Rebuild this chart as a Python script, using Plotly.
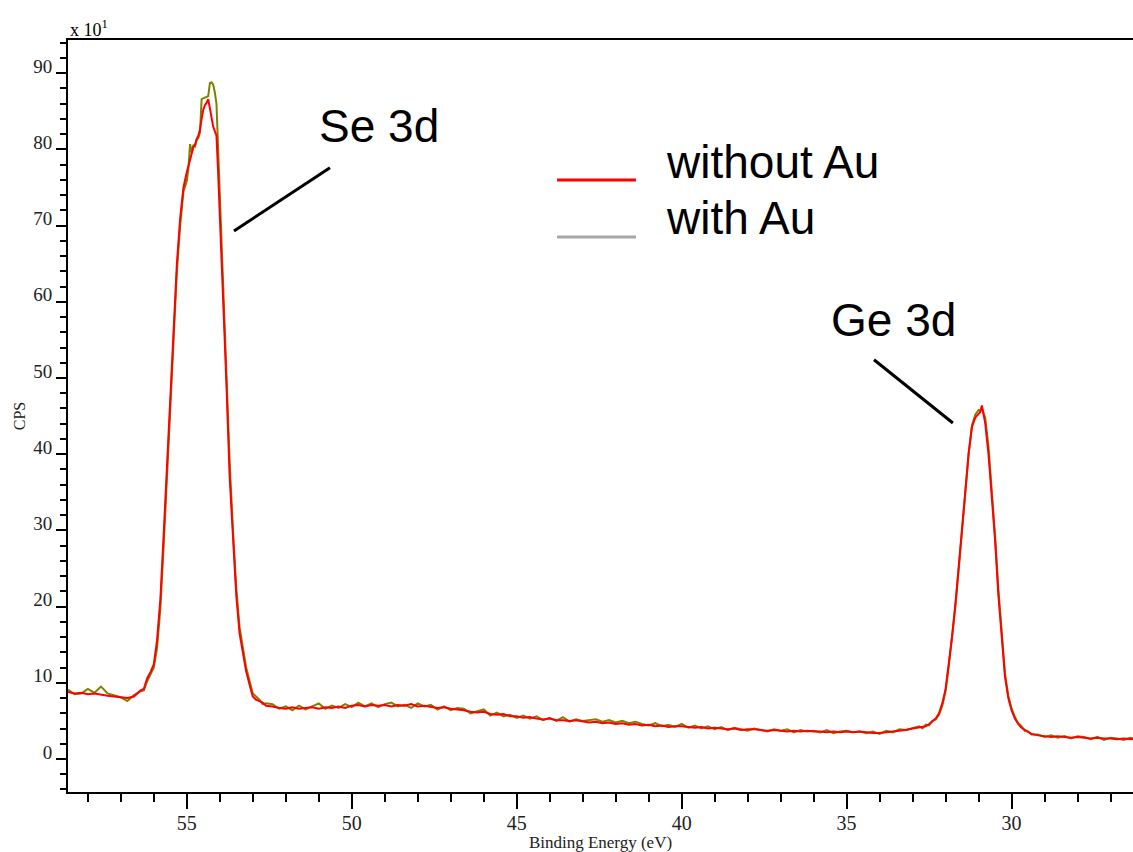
import plotly.graph_objects as go

# Binding energy grid (eV), high to low, shared by both spectra
energy = [
    58.6, 58.4, 58.2, 58.0, 57.8, 57.6, 57.4, 57.2, 57.0, 56.8, 56.6, 56.4,
    56.3, 56.2, 56.1, 56.0, 55.9, 55.8, 55.7, 55.6, 55.5, 55.4, 55.3, 55.2, 55.1, 55.0,
    54.95, 54.9, 54.85, 54.8, 54.75, 54.7, 54.65, 54.6, 54.55, 54.5, 54.45, 54.4, 54.35,
    54.3, 54.25, 54.2, 54.15, 54.1, 54.05, 54.0, 53.9, 53.8, 53.7, 53.6, 53.5, 53.4, 53.3,
    53.2, 53.1, 53.0, 52.9, 52.8, 52.7, 52.6,
    52.4, 52.2, 52.0, 51.8, 51.6, 51.4, 51.2, 51.0, 50.8, 50.6, 50.4, 50.2, 50.0,
    49.8, 49.6, 49.4, 49.2, 49.0, 48.8, 48.6, 48.4, 48.2, 48.0, 47.8, 47.6, 47.4, 47.2, 47.0,
    46.8, 46.6, 46.4, 46.2, 46.0, 45.8, 45.6, 45.4, 45.2, 45.0, 44.8, 44.6, 44.4, 44.2, 44.0,
    43.8, 43.6, 43.4, 43.2, 43.0, 42.8, 42.6, 42.4, 42.2, 42.0, 41.8, 41.6, 41.4, 41.2, 41.0,
    40.8, 40.6, 40.4, 40.2, 40.0, 39.8, 39.6, 39.4, 39.2, 39.0, 38.8, 38.6, 38.4, 38.2, 38.0,
    37.8, 37.6, 37.4, 37.2, 37.0, 36.8, 36.6, 36.4, 36.2, 36.0, 35.8, 35.6, 35.4, 35.2, 35.0,
    34.8, 34.6, 34.4, 34.2, 34.0, 33.8, 33.6, 33.4, 33.2, 33.0,
    32.8, 32.7, 32.6, 32.5, 32.4, 32.3, 32.2, 32.1, 32.0, 31.9, 31.8, 31.7, 31.6, 31.5,
    31.4, 31.3, 31.2, 31.1, 31.0, 30.95, 30.9, 30.85, 30.8, 30.7, 30.6, 30.5, 30.4, 30.3,
    30.2, 30.1, 30.0, 29.9, 29.8, 29.7, 29.6, 29.5, 29.4,
    29.2, 29.0, 28.8, 28.6, 28.4, 28.2, 28.0, 27.8, 27.6, 27.4, 27.2, 27.0, 26.8, 26.6, 26.4, 26.3,
]

# Counts per second (x 10) without Au
cps_without_au = [
    8.8, 8.6, 8.7, 8.5, 8.6, 8.4, 8.3, 8.2, 8.1, 8.0, 8.2, 9.0,
    9.2, 10.6, 11.4, 12.4, 15.6, 21.0, 29.5, 38.5, 47.0, 57.0, 65.0, 71.0, 75.0, 77.0,
    77.8, 78.6, 79.2, 80.3, 80.6, 81.4, 81.8, 82.6, 84.0, 85.2, 85.8, 86.1, 86.6,
    85.6, 84.2, 83.0, 82.5, 81.8, 77.0, 71.5, 62.5, 49.5, 37.0, 28.5, 21.5, 16.5, 14.0,
    11.5, 9.8, 8.2, 7.8, 7.6, 7.4, 7.0,
    6.9, 6.7, 6.6, 6.8, 6.6, 6.7, 6.8, 6.6, 6.8, 6.7, 6.9, 6.7, 7.0,
    7.1, 6.9, 7.1, 7.0, 7.1, 6.9, 7.1, 7.0, 7.2, 6.9, 7.0, 6.8, 6.7, 6.8, 6.6,
    6.5, 6.4, 6.2, 6.1, 6.2, 5.9, 5.8, 5.9, 5.6, 5.6, 5.4, 5.5, 5.3, 5.2, 5.3,
    5.1, 5.1, 5.0, 5.1, 4.9, 4.8, 4.9, 4.7, 4.8, 4.6, 4.7, 4.5, 4.6, 4.4, 4.5,
    4.3, 4.4, 4.2, 4.3, 4.3, 4.2, 4.1, 4.2, 4.0, 4.1, 4.0, 3.9, 4.0, 3.8, 3.9,
    3.9, 3.8, 3.7, 3.8, 3.7, 3.6, 3.7, 3.6, 3.7, 3.6, 3.6, 3.5, 3.6, 3.5, 3.6,
    3.5, 3.6, 3.5, 3.4, 3.4, 3.5, 3.6, 3.7, 3.8, 4.0,
    4.1, 4.2, 4.3, 4.6, 4.9, 5.3, 6.0, 7.3, 9.2, 12.6, 16.2, 20.5, 25.3, 30.3,
    35.5, 40.2, 43.6, 44.8, 45.3, 45.5, 46.4, 45.0, 44.1, 40.0, 34.5, 28.7, 21.5, 15.5,
    10.8, 8.0, 6.4, 5.3, 4.6, 4.1, 3.8, 3.5, 3.3,
    3.1, 3.0, 2.9, 3.0, 2.9, 2.8, 2.9, 2.8, 2.7, 2.8, 2.7, 2.7, 2.6, 2.7, 2.6, 2.6,
]

# Counts per second (x 10) with Au
cps_with_au = [
    9.1, 8.5, 8.6, 9.2, 8.7, 9.5, 8.6, 8.3, 8.1, 7.6, 8.4, 8.9,
    9.0, 10.2, 11.0, 12.0, 14.6, 19.8, 28.0, 37.0, 45.5, 55.5, 64.0, 70.0, 74.5, 75.8,
    77.5, 80.7, 79.6, 80.6, 80.4, 81.2, 81.5, 82.2, 86.6, 86.7, 86.8, 86.9, 87.0,
    88.7, 88.8, 88.5, 87.5, 86.0, 80.0, 74.5, 64.5, 51.5, 39.0, 30.0, 22.5, 17.3, 14.5,
    12.0, 10.3, 8.6, 8.2, 7.8, 7.2, 7.3,
    7.2, 6.6, 6.9, 6.4, 7.0, 6.5, 6.9, 7.3, 6.6, 7.0, 6.7, 7.2, 6.8,
    7.4, 6.9, 7.3, 6.8, 7.2, 7.4, 6.9, 7.1, 6.7, 7.3, 6.9, 7.1, 6.5, 6.9, 6.4,
    6.7, 6.6, 6.0, 6.3, 6.5, 5.7, 6.1, 5.6, 5.8, 5.4, 5.7, 5.3, 5.6, 5.1, 5.4,
    5.0, 5.5, 4.9, 5.2, 5.0, 5.1, 5.2, 4.9, 5.1, 4.8, 5.0, 4.7, 4.9, 4.6, 4.4,
    4.7, 4.3, 4.5, 4.2, 4.6, 4.1, 4.4, 4.0, 4.3, 3.9, 4.2, 3.8, 4.1, 3.9, 3.7,
    4.0, 3.8, 3.6, 3.9, 3.7, 3.9, 3.5, 3.8, 3.6, 3.7, 3.5, 3.8, 3.4, 3.6, 3.7,
    3.5, 3.6, 3.4, 3.6, 3.3, 3.7, 3.5, 3.9, 3.8, 4.1,
    4.3, 4.0, 4.5, 4.4, 5.0, 5.2, 5.8, 7.0, 8.9, 12.3, 16.0, 20.2, 25.0, 30.0,
    35.3, 40.1, 43.8, 45.2, 45.8, 45.7, 46.0, 45.3, 44.8, 41.0, 35.3, 29.3, 22.2, 16.0,
    11.2, 8.3, 6.6, 5.5, 4.7, 4.3, 3.7, 3.6, 3.2,
    3.2, 2.9, 3.1, 2.8, 3.0, 2.7, 3.0, 2.9, 2.6, 2.9, 2.5, 2.8, 2.7, 2.5, 2.8, 2.7,
]

x_ticks = [55, 50, 45, 40, 35, 30]
y_ticks = [0, 10, 20, 30, 40, 50, 60, 70, 80, 90]

# Peak labels: text position and leader line (start, end) in data units
peak_labels = ["Se 3d", "Ge 3d"]
peak_text_pos = [(49.17, 83.1), (33.57, 57.6)]
peak_leaders = [((50.66, 77.6), (53.57, 69.3)), ((34.17, 52.4), (31.78, 44.1))]

RED = "#ff0000"
OLIVE = "#808000"
SERIF = "Liberation Serif"
SANS = "Liberation Sans"

fig = go.Figure()
fig.add_trace(go.Scatter(x=energy, y=cps_with_au, mode="lines", name="with Au",
                         line=dict(color=OLIVE, width=2), showlegend=False))
fig.add_trace(go.Scatter(x=energy, y=cps_without_au, mode="lines", name="without Au",
                         line=dict(color=RED, width=2), showlegend=False))

for label, (tx, ty), ((x0, y0), (x1, y1)) in zip(peak_labels, peak_text_pos, peak_leaders):
    fig.add_annotation(x=tx, y=ty, xref="x", yref="y", text=label, showarrow=False,
                       font=dict(family=SANS, size=46, color="black"),
                       xanchor="center", yanchor="middle")
    fig.add_shape(type="line", xref="x", yref="y", x0=x0, y0=y0, x1=x1, y1=y1,
                  line=dict(color="black", width=3))

# Hand-drawn style legend
legend_items = [("without Au", RED, 0.8138, 0.8378), ("with Au", "#a6a6a6", 0.738, 0.7633)]
for text, color, line_y, text_y in legend_items:
    fig.add_shape(type="line", xref="paper", yref="paper", x0=0.4592, x1=0.5333,
                  y0=line_y, y1=line_y, line=dict(color=color, width=3))
    fig.add_annotation(x=0.5596, y=text_y, xref="paper", yref="paper", text=text,
                       showarrow=False, xanchor="left", yanchor="middle",
                       font=dict(family=SANS, size=46, color="black"))

# Axis multiplier
fig.add_annotation(x=0, y=1, xref="paper", yref="paper", text="x 10<sup>1</sup>",
                   showarrow=False, xanchor="left", yanchor="bottom", yshift=-2,
                   font=dict(family=SERIF, size=18, color="black"))

fig.update_layout(
    width=1133, height=852,
    margin=dict(l=68, r=0, t=40, b=60),
    paper_bgcolor="white", plot_bgcolor="white",
    showlegend=False,
    xaxis=dict(
        range=[58.6, 26.32], tickvals=x_ticks, ticktext=[str(v) for v in x_ticks],
        ticks="outside", ticklen=15, tickwidth=2, tickcolor="black",
        minor=dict(dtick=1, ticks="outside", ticklen=8, tickwidth=2, tickcolor="black", showgrid=False),
        showline=True, linecolor="black", linewidth=2, mirror=True,
        showgrid=False, zeroline=False,
        ticklabelstandoff=-3,
        tickfont=dict(family=SERIF, size=20, color="#222"),
        title=dict(text="Binding Energy (eV)", font=dict(family=SERIF, size=17, color="#222"), standoff=4),
    ),
    yaxis=dict(
        range=[-4.33, 94.36], tickvals=y_ticks, ticktext=[str(v) for v in y_ticks],
        ticks="outside", ticklen=10, tickwidth=2, tickcolor="black",
        minor=dict(dtick=2, ticks="outside", ticklen=6, tickwidth=2, tickcolor="black", showgrid=False),
        showline=True, linecolor="black", linewidth=2,
        showgrid=False, zeroline=False,
        ticklabelshift=-7, ticklabelstandoff=0,
        tickfont=dict(family=SERIF, size=19, color="#222"),
        title=dict(text="CPS", font=dict(family=SERIF, size=16, color="#222"), standoff=4),
    ),
)

fig.write_html("out.html")
